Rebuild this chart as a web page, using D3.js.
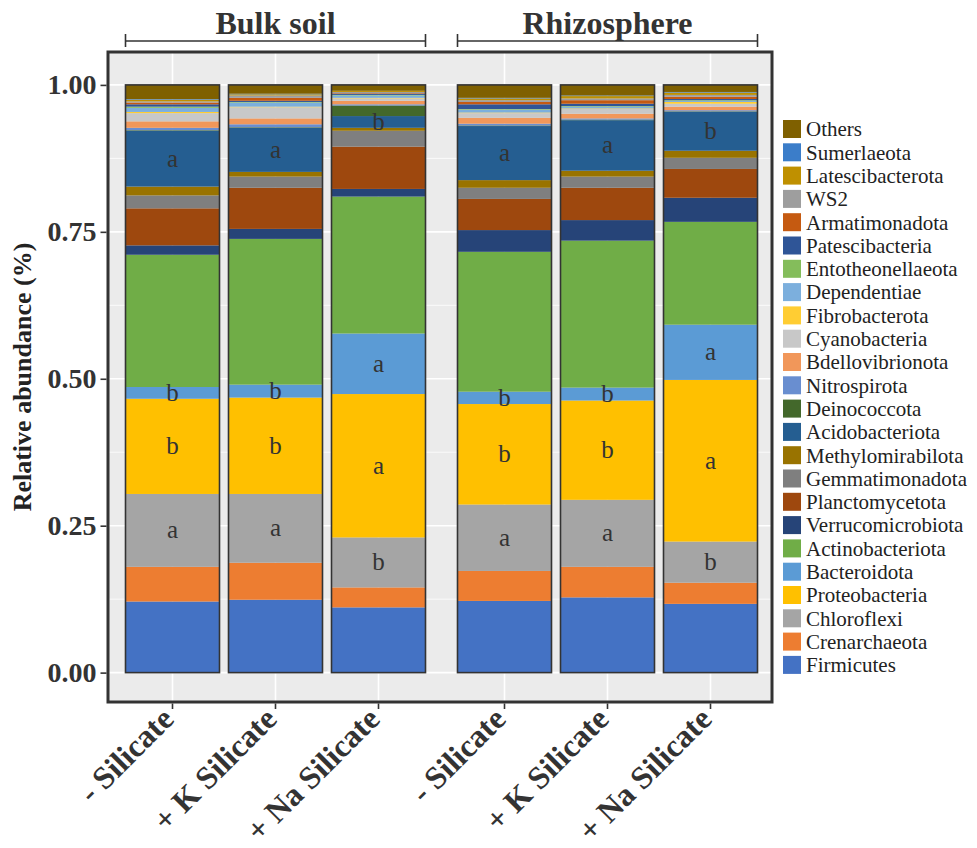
<!DOCTYPE html>
<html>
<head>
<meta charset="utf-8">
<script src="https://cdn.jsdelivr.net/npm/d3@7"></script>
<style>
  html, body { margin: 0; padding: 0; background: #ffffff; }
  svg { display: block; }
  text { font-family: "Liberation Serif", "Times New Roman", serif; }
</style>
</head>
<body>
<svg id="chart" width="977" height="848"></svg>
<script>
// Sample groups and treatments
const groups = ["Bulk soil", "Rhizosphere"];
const treatments = ["- Silicate", "+ K Silicate", "+ Na Silicate"];

// Phyla, stacked from bottom to top
const phyla = [
  "Firmicutes", "Crenarchaeota", "Chloroflexi", "Proteobacteria", "Bacteroidota",
  "Actinobacteriota", "Verrucomicrobiota", "Planctomycetota", "Gemmatimonadota",
  "Methylomirabilota", "Acidobacteriota", "Deinococcota", "Nitrospirota",
  "Bdellovibrionota", "Cyanobacteria", "Fibrobacterota", "Dependentiae",
  "Entotheonellaeota", "Patescibacteria", "Armatimonadota", "WS2",
  "Latescibacterota", "Sumerlaeota", "Others"
];

const phylumColors = [
  "#4472C4", "#ED7D31", "#A5A5A5", "#FFC000", "#5B9BD5",
  "#70AD47", "#264478", "#9E480E", "#7F7F7F",
  "#997300", "#255E91", "#43682B", "#698ED0",
  "#F1975A", "#C8C8C8", "#FFCD33", "#7CAFDD",
  "#84BD5B", "#2F5597", "#C55A11", "#9E9E9E",
  "#BF9000", "#3B7DC9", "#7F6000"
];

// Relative abundance per sample, in the phyla order above
const bulkNone  = [0.121, 0.059, 0.124, 0.162, 0.020, 0.225, 0.016, 0.063, 0.022, 0.015, 0.095, 0.001, 0.004, 0.011, 0.014, 0.002, 0.007, 0.002, 0.004, 0.003, 0.002, 0.003, 0.001, 0.024];
const bulkK     = [0.124, 0.063, 0.117, 0.164, 0.022, 0.248, 0.017, 0.070, 0.019, 0.008, 0.075, 0.001, 0.005, 0.010, 0.019, 0.001, 0.007, 0.001, 0.002, 0.005, 0.004, 0.002, 0.001, 0.015];
const bulkNa    = [0.111, 0.034, 0.085, 0.244, 0.103, 0.233, 0.013, 0.072, 0.027, 0.005, 0.020, 0.018, 0.002, 0.006, 0.004, 0.001, 0.004, 0.001, 0.002, 0.001, 0.002, 0.002, 0.000, 0.010];
const rhizoNone = [0.122, 0.051, 0.113, 0.171, 0.021, 0.238, 0.037, 0.053, 0.019, 0.013, 0.092, 0.001, 0.003, 0.010, 0.008, 0.001, 0.005, 0.001, 0.008, 0.004, 0.003, 0.003, 0.001, 0.022];
const rhizoK    = [0.128, 0.052, 0.114, 0.169, 0.022, 0.250, 0.035, 0.055, 0.019, 0.010, 0.086, 0.001, 0.002, 0.008, 0.008, 0.001, 0.003, 0.001, 0.004, 0.006, 0.003, 0.004, 0.001, 0.018];
const rhizoNa   = [0.117, 0.036, 0.070, 0.275, 0.094, 0.175, 0.041, 0.049, 0.019, 0.012, 0.066, 0.001, 0.002, 0.006, 0.005, 0.003, 0.002, 0.001, 0.002, 0.004, 0.003, 0.004, 0.001, 0.012];

// Significance letters (same sample order as the bars)
const lettersAcidobacteriota = ["a", "a", "b", "a", "a", "b"];
const lettersBacteroidota    = ["b", "b", "a", "b", "b", "a"];
const lettersProteobacteria  = ["b", "b", "a", "b", "b", "a"];
const lettersChloroflexi     = ["a", "a", "b", "a", "a", "b"];

const yTicks = [0, 0.25, 0.5, 0.75, 1];
const yMinor = [0.125, 0.375, 0.625, 0.875];

// ---- assemble rows ----
const sampleValues = [bulkNone, bulkK, bulkNa, rhizoNone, rhizoK, rhizoNa];
const rows = [];
groups.forEach((g, gi) => {
  treatments.forEach((t, ti) => {
    const vals = sampleValues[gi * 3 + ti];
    const row = { group: g, treatment: t, idx: gi * 3 + ti };
    phyla.forEach((p, pi) => { row[p] = vals[pi]; });
    rows.push(row);
  });
});

const annotations = [
  { phylum: "Acidobacteriota", letters: lettersAcidobacteriota },
  { phylum: "Bacteroidota", letters: lettersBacteroidota },
  { phylum: "Proteobacteria", letters: lettersProteobacteria },
  { phylum: "Chloroflexi", letters: lettersChloroflexi }
];

// ---- layout ----
const panel = { left: 108, right: 772, top: 52, bottom: 702 };
const svg = d3.select("#chart");

const xGroup = d3.scalePoint().domain(groups).range([275.5, 607.5]);
const xTreat = d3.scalePoint().domain(treatments).range([-103, 103]);
const xPos = d => xGroup(d.group) + xTreat(d.treatment);
const barWidth = 94;

const y = d3.scaleLinear().domain([-0.05, 1.056]).range([panel.bottom, panel.top]);
const color = d3.scaleOrdinal().domain(phyla).range(phylumColors);

// panel background
svg.append("rect")
  .attr("x", panel.left).attr("y", panel.top)
  .attr("width", panel.right - panel.left).attr("height", panel.bottom - panel.top)
  .attr("fill", "#EBEBEB");

// grid
const grid = svg.append("g");
grid.selectAll("line.minor").data(yMinor).join("line")
  .attr("x1", panel.left).attr("x2", panel.right)
  .attr("y1", d => y(d)).attr("y2", d => y(d))
  .attr("stroke", "#fff").attr("stroke-width", 0.8);
grid.selectAll("line.major").data(yTicks).join("line")
  .attr("x1", panel.left).attr("x2", panel.right)
  .attr("y1", d => y(d)).attr("y2", d => y(d))
  .attr("stroke", "#fff").attr("stroke-width", 1.6);
grid.selectAll("line.vert").data(rows).join("line")
  .attr("x1", xPos).attr("x2", xPos)
  .attr("y1", panel.top).attr("y2", panel.bottom)
  .attr("stroke", "#fff").attr("stroke-width", 1.6);

// stacked bars
const stacked = d3.stack().keys(phyla)(rows);
const bars = svg.append("g");
bars.selectAll("g").data(stacked).join("g")
  .attr("fill", s => color(s.key))
  .selectAll("rect").data(s => s).join("rect")
  .attr("x", d => xPos(d.data) - barWidth / 2)
  .attr("width", barWidth)
  .attr("y", d => y(d[1]))
  .attr("height", d => Math.max(0, y(d[0]) - y(d[1])));

// bar outlines
const totals = rows.map(r => d3.sum(phyla, p => r[p]));
bars.selectAll("rect.outline").data(rows).join("rect")
  .attr("class", "outline")
  .attr("x", d => xPos(d) - barWidth / 2)
  .attr("width", barWidth)
  .attr("y", (d, i) => y(totals[i]))
  .attr("height", (d, i) => y(0) - y(totals[i]))
  .attr("fill", "none").attr("stroke", "#333").attr("stroke-width", 1.6);

// significance letters at segment centres
const letterG = svg.append("g");
annotations.forEach(a => {
  const layer = stacked.find(s => s.key === a.phylum);
  letterG.selectAll(null).data(layer).join("text")
    .attr("x", d => xPos(d.data))
    .attr("y", d => y((d[0] + d[1]) / 2))
    .attr("dy", "0.32em")
    .attr("text-anchor", "middle")
    .attr("font-size", 25)
    .attr("fill", "#333")
    .text(d => a.letters[d.data.idx]);
});

// panel border
svg.append("rect")
  .attr("x", panel.left).attr("y", panel.top)
  .attr("width", panel.right - panel.left).attr("height", panel.bottom - panel.top)
  .attr("fill", "none").attr("stroke", "#333").attr("stroke-width", 3);

// y axis
const yAxis = svg.append("g")
  .attr("transform", `translate(${panel.left - 1.5},0)`)
  .call(d3.axisLeft(y).tickValues(yTicks).tickFormat(d3.format(".2f")).tickSize(6).tickPadding(4));
yAxis.select(".domain").remove();
yAxis.selectAll(".tick line").attr("stroke", "#333").attr("stroke-width", 1.6);
yAxis.selectAll(".tick text")
  .attr("font-family", "'Liberation Serif', serif")
  .attr("font-size", 28).attr("font-weight", "bold").attr("fill", "#333");

svg.append("text")
  .attr("transform", `translate(31,${(panel.top + panel.bottom) / 2}) rotate(-90)`)
  .attr("text-anchor", "middle")
  .attr("font-size", 26).attr("font-weight", "bold").attr("fill", "#222")
  .text("Relative abundance (%)");

// x axis ticks and rotated labels
const xAxisG = svg.append("g");
xAxisG.selectAll("line").data(rows).join("line")
  .attr("x1", xPos).attr("x2", xPos)
  .attr("y1", panel.bottom + 1.5).attr("y2", panel.bottom + 7)
  .attr("stroke", "#333").attr("stroke-width", 1.6);
xAxisG.selectAll("text").data(rows).join("text")
  .attr("transform", d => `translate(${xPos(d) - 5},${panel.bottom + 11}) rotate(-45)`)
  .attr("text-anchor", "end")
  .attr("dy", "0.35em")
  .attr("font-size", 32).attr("font-weight", "bold").attr("fill", "#333")
  .text(d => d.treatment);

// group headers with brackets
const header = svg.append("g");
groups.forEach(g => {
  const members = rows.filter(r => r.group === g);
  const x1 = d3.min(members, r => xPos(r)) - barWidth / 2;
  const x2 = d3.max(members, r => xPos(r)) + barWidth / 2;
  const yb = 41;
  header.append("line").attr("x1", x1).attr("x2", x2).attr("y1", yb).attr("y2", yb)
    .attr("stroke", "#333").attr("stroke-width", 1.6);
  [x1, x2].forEach(xx => header.append("line")
    .attr("x1", xx).attr("x2", xx).attr("y1", yb - 7).attr("y2", yb + 6)
    .attr("stroke", "#333").attr("stroke-width", 1.6));
  header.append("text")
    .attr("x", xGroup(g)).attr("y", 34)
    .attr("text-anchor", "middle")
    .attr("font-size", 32).attr("font-weight", "bold").attr("fill", "#333")
    .text(g);
});

// legend (top to bottom: last stacked phylum first)
const legendItems = phyla.slice().reverse();
const legend = svg.append("g").attr("transform", "translate(783,120)");
const li = legend.selectAll("g").data(legendItems).join("g")
  .attr("transform", (d, i) => `translate(0,${i * 23.3})`);
li.append("rect").attr("width", 18).attr("height", 18).attr("fill", d => color(d));
li.append("text").attr("x", 23).attr("y", 9).attr("dy", "0.35em")
  .attr("font-size", 21).attr("fill", "#222").text(d => d);
</script>
</body>
</html>
